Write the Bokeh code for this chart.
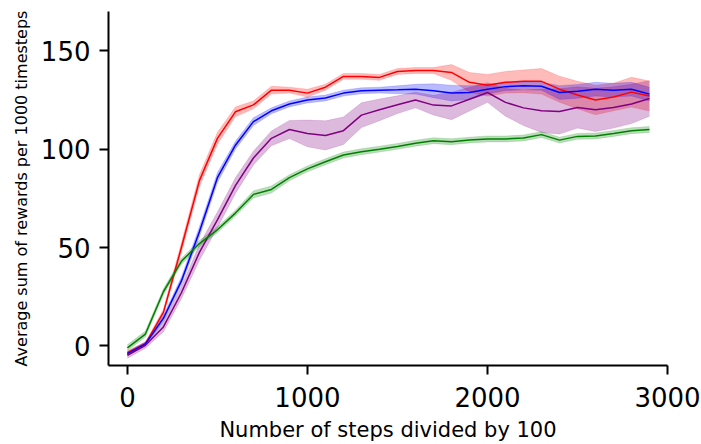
from bokeh.plotting import figure
from bokeh.models import Range1d, FixedTicker
from bokeh.embed import file_html
from bokeh.resources import INLINE

steps = [0, 100, 200, 300, 400, 500, 600, 700, 800, 900,
         1000, 1100, 1200, 1300, 1400, 1500, 1600, 1700, 1800, 1900,
         2000, 2100, 2200, 2300, 2400, 2500, 2600, 2700, 2800, 2900]

red_mean = [-3.5, 1, 17, 50, 84, 105.5, 119, 122.5, 130, 130,
            128.5, 131.5, 137, 137, 136.5, 139.5, 140, 140, 139, 134,
            132.5, 134, 134.5, 134.5, 130.5, 127.5, 125, 126.5, 129, 127]
red_sd = [1, 1, 1.5, 2.5, 3, 3, 2.5, 2, 2, 1.5,
          2, 1.5, 1.5, 1.5, 1.5, 1.5, 1.5, 1.5, 4, 5,
          5.5, 5.5, 5.8, 6.5, 6.6, 7, 7.5, 7, 7.6, 7.6]

blue_mean = [-4, 1, 14, 33, 58, 85.5, 102, 114, 119.5, 123,
             125, 126, 128.5, 129.7, 130, 130.2, 130.5, 129.7, 128.5, 128.8,
             130.5, 131.8, 132.2, 132, 128.8, 129.4, 130.5, 130, 130.5, 128]
blue_sd = [1, 1, 1.5, 2, 2.5, 2.5, 2, 2, 1.5, 1.5,
           1.5, 1.5, 1.5, 1.5, 1.5, 2, 2.5, 3.5, 4, 3.5,
           2.5, 2, 2, 2, 3.5, 3.5, 3.5, 3.5, 3.5, 3.5]

purple_mean = [-4.8, 0.3, 9.6, 27, 47.5, 64, 81.5, 95.5, 105.5, 110,
               108, 107, 109.4, 117.3, 120, 122.6, 125, 122.4, 122, 125.4,
               128.8, 123.8, 121, 119.5, 119.2, 121.2, 120, 121.2, 123, 125.8]
purple_sd = [1.5, 1.5, 2.5, 3, 4, 4, 4, 3.5, 3.8, 4.6,
             6.8, 7.4, 7, 6.3, 5.5, 4.5, 4, 5, 7, 6,
             5, 7, 9, 11, 11.5, 10.5, 11, 10.5, 10, 9]

green_mean = [-1, 6, 27.5, 43, 52, 59, 67.5, 77, 79.5, 85.5,
              90, 93.6, 97, 98.7, 100, 101.4, 103, 104.3, 103.8, 104.6,
              105.2, 105.2, 105.7, 107.4, 104.6, 106.5, 106.7, 108, 109.4, 110]
green_sd = [1.5, 1.5, 1.5, 1.5, 1.5, 1.5, 1.5, 1.8, 1.8, 1.5,
            1.5, 1.5, 1.5, 1.5, 1.5, 1.5, 1.5, 1.5, 1.5, 1.5,
            1.5, 1.5, 1.5, 1.5, 1.5, 1.5, 1.5, 1.5, 1.5, 1.5]

x_ticks = [0, 1000, 2000, 3000]
y_ticks = [0, 50, 100, 150]
x_title = "Number of steps divided by 100"
y_title = "Average sum of rewards per 1000 timesteps"

series = [
    ("#ff0000", red_mean, red_sd),
    ("#0000ff", blue_mean, blue_sd),
    ("#800080", purple_mean, purple_sd),
    ("#008000", green_mean, green_sd),
]

p = figure(width=701, height=444, output_backend="svg", toolbar_location=None,
           x_range=Range1d(-105, 3000), y_range=Range1d(-10, 170),
           min_border_left=108, min_border_right=34, min_border_top=11,
           min_border_bottom=78)
p.outline_line_color = None
p.grid.visible = False
p.background_fill_color = "white"
p.border_fill_color = "white"

for color, mean, sd in series:
    lo = [m - s for m, s in zip(mean, sd)]
    hi = [m + s for m, s in zip(mean, sd)]
    p.varea(x=steps, y1=lo, y2=hi, fill_color=color, fill_alpha=0.27)
    p.line(steps, lo, line_color=color, line_alpha=0.15, line_width=1)
    p.line(steps, hi, line_color=color, line_alpha=0.15, line_width=1)

for color, mean, sd in series:
    p.line(steps, mean, line_color=color, line_width=1.5)

p.xaxis.ticker = FixedTicker(ticks=x_ticks)
p.yaxis.ticker = FixedTicker(ticks=y_ticks)
p.xaxis.axis_label = x_title
p.yaxis.axis_label = y_title

for ax in (p.xaxis, p.yaxis):
    ax.axis_line_width = 2
    ax.axis_line_color = "black"
    ax.major_tick_line_width = 2
    ax.major_tick_line_color = "black"
    ax.major_tick_out = 9
    ax.major_tick_in = 0
    ax.minor_tick_line_color = None
    ax.major_label_text_font = "DejaVu Sans"
    ax.major_label_text_font_size = "26px"
    ax.major_label_text_color = "black"
    ax.axis_label_text_font = "DejaVu Sans"
    ax.axis_label_text_font_style = "normal"
    ax.axis_label_text_color = "black"

p.xaxis.major_label_standoff = 12
p.yaxis.major_label_standoff = 9
p.xaxis.axis_label_text_font_size = "21px"
p.xaxis.axis_label_text_line_height = 0.8
p.xaxis.major_label_text_line_height = 0.8
p.yaxis.axis_label_text_font_size = "16px"
p.xaxis.axis_label_standoff = 8
p.yaxis.axis_label_standoff = 7

open("out.html", "w").write(file_html(p, INLINE))
